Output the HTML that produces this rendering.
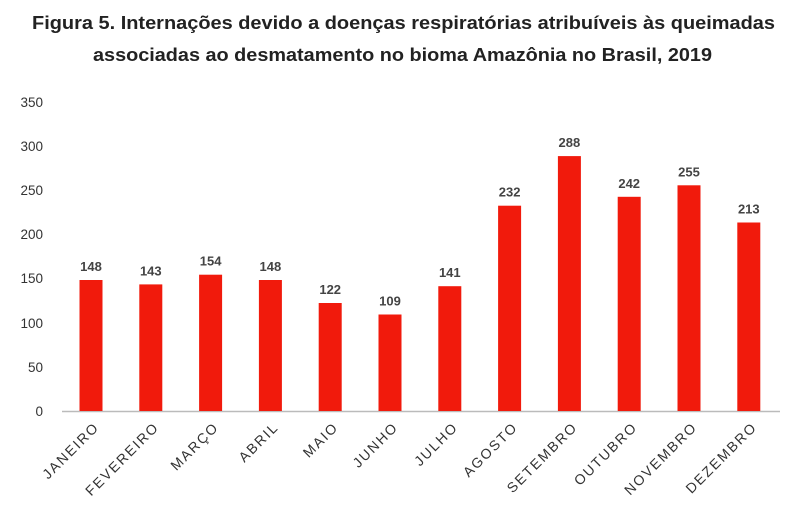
<!DOCTYPE html>
<html><head><meta charset="utf-8"><style>
body{margin:0;background:#fff;width:800px;height:522px;overflow:hidden}
</style></head><body>
<svg width="800" height="522" xmlns="http://www.w3.org/2000/svg" font-family="Liberation Sans, sans-serif">
<text x="32" y="29" textLength="743" lengthAdjust="spacingAndGlyphs" font-size="18.5" font-weight="bold" fill="#222">Figura 5. Internações devido a doenças respiratórias atribuíveis às queimadas</text>
<text x="93" y="61" textLength="619" lengthAdjust="spacingAndGlyphs" font-size="18.5" font-weight="bold" fill="#222">associadas ao desmatamento no bioma Amazônia no Brasil, 2019</text>
<g font-size="13.5" fill="#333" text-anchor="end">
<text x="43" y="107">350</text><text x="43" y="151">300</text><text x="43" y="195">250</text><text x="43" y="239">200</text><text x="43" y="283">150</text><text x="43" y="328">100</text><text x="43" y="372">50</text><text x="43" y="416">0</text>
</g>
<line x1="62" y1="411.5" x2="780" y2="411.5" stroke="#bbb" stroke-width="1.5"/>
<g fill="#f11a0c">
<rect x="79.5" y="280" width="23" height="131"/>
<rect x="139.3" y="284.4" width="23" height="126.6"/>
<rect x="199.1" y="274.7" width="23" height="136.3"/>
<rect x="258.9" y="280" width="23" height="131"/>
<rect x="318.7" y="303" width="23" height="108"/>
<rect x="378.5" y="314.5" width="23" height="96.5"/>
<rect x="438.3" y="286.2" width="23" height="124.8"/>
<rect x="498.1" y="205.7" width="23" height="205.3"/>
<rect x="557.9" y="156.1" width="23" height="254.9"/>
<rect x="617.7" y="196.8" width="23" height="214.2"/>
<rect x="677.5" y="185.3" width="23" height="225.7"/>
<rect x="737.3" y="222.5" width="23" height="188.5"/>
</g>
<g font-size="13" font-weight="bold" fill="#444" text-anchor="middle">
<text x="91" y="271">148</text>
<text x="150.8" y="275.4">143</text>
<text x="210.6" y="265.7">154</text>
<text x="270.4" y="271">148</text>
<text x="330.2" y="294">122</text>
<text x="390" y="305.5">109</text>
<text x="449.8" y="277.2">141</text>
<text x="509.6" y="196.7">232</text>
<text x="569.4" y="147.1">288</text>
<text x="629.2" y="187.8">242</text>
<text x="689" y="176.3">255</text>
<text x="748.8" y="213.5">213</text>
</g>
<g font-size="14" letter-spacing="1.8" fill="#333" text-anchor="end">
<text transform="translate(100,428) rotate(-45)">JANEIRO</text>
<text transform="translate(159.8,428) rotate(-45)">FEVEREIRO</text>
<text transform="translate(219.6,428) rotate(-45)">MARÇO</text>
<text transform="translate(279.4,428) rotate(-45)">ABRIL</text>
<text transform="translate(339.2,428) rotate(-45)">MAIO</text>
<text transform="translate(399,428) rotate(-45)">JUNHO</text>
<text transform="translate(458.8,428) rotate(-45)">JULHO</text>
<text transform="translate(518.6,428) rotate(-45)">AGOSTO</text>
<text transform="translate(578.4,428) rotate(-45)">SETEMBRO</text>
<text transform="translate(638.2,428) rotate(-45)">OUTUBRO</text>
<text transform="translate(698,428) rotate(-45)">NOVEMBRO</text>
<text transform="translate(757.8,428) rotate(-45)">DEZEMBRO</text>
</g>
</svg>
</body></html>
